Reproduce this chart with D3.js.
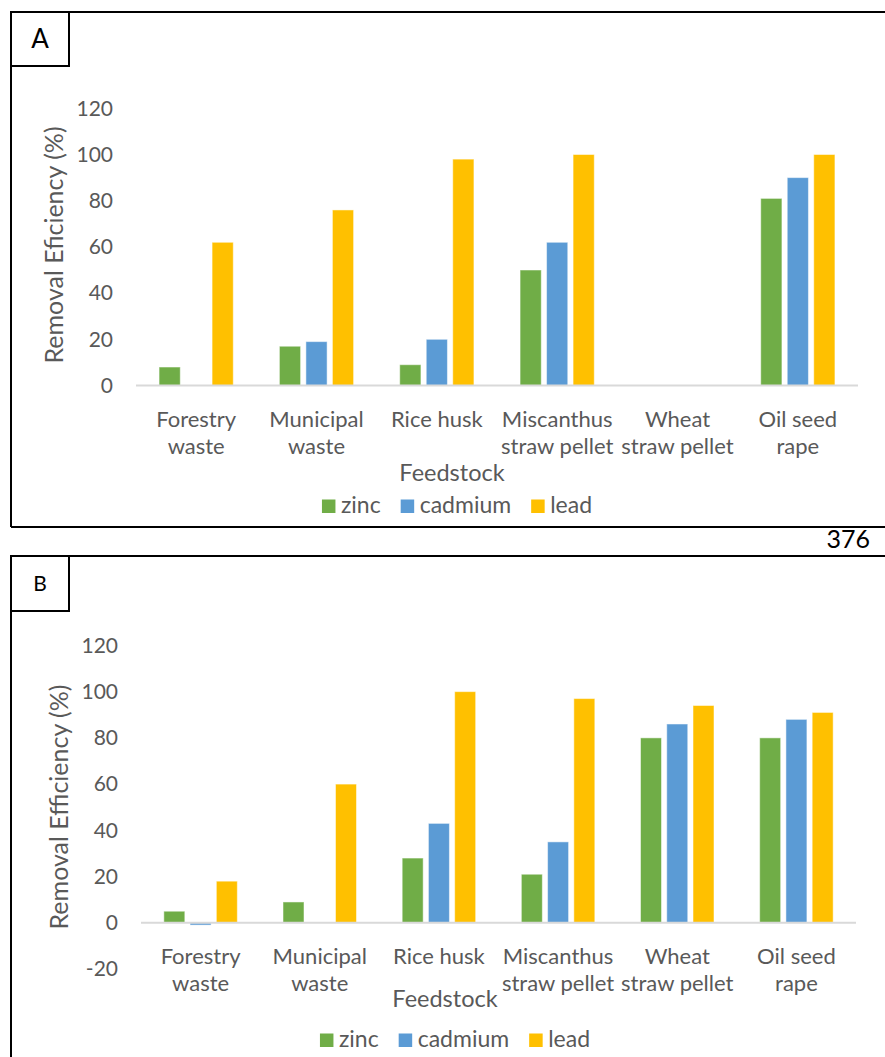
<!DOCTYPE html>
<html>
<head>
<meta charset="utf-8">
<script src="https://cdn.jsdelivr.net/npm/d3@7/dist/d3.min.js"></script>
<style>
  html, body { margin: 0; padding: 0; background: #fff; }
  svg { display: block; }
  text { font-family: Lato, "Noto Sans", sans-serif; }
</style>
</head>
<body>
<svg id="chart" width="885" height="1057"></svg>
<script>
// ---- data ----
const categories = ["Forestry waste", "Municipal waste", "Rice husk", "Miscanthus straw pellet", "Wheat straw pellet", "Oil seed rape"];
const categoryLines = [["Forestry", "waste"], ["Municipal", "waste"], ["Rice husk"], ["Miscanthus", "straw pellet"], ["Wheat", "straw pellet"], ["Oil seed", "rape"]];
const series = ["zinc", "cadmium", "lead"];
const colors = ["#70AD47", "#5B9BD5", "#FFC000"];

// Panel A (null = no bar)
const zincA    = [8, 17, 9, 50, null, 81];
const cadmiumA = [null, 19, 20, 62, null, 90];
const leadA    = [62, 76, 98, 100, null, 100];
const ticksA   = [0, 20, 40, 60, 80, 100, 120];

// Panel B
const zincB    = [5, 9, 28, 21, 80, 80];
const cadmiumB = [-1, null, 43, 35, 86, 88];
const leadB    = [18, 60, 100, 97, 94, 91];
const ticksB   = [-20, 0, 20, 40, 60, 80, 100, 120];

const svg = d3.select("#chart");
const textColor = "#595959";

// frames
function frame(top, bottom, label, labelBottom, labelSize) {
  const g = svg.append("g");
  g.append("line").attr("x1", 11).attr("x2", 886).attr("y1", top).attr("y2", top)
    .attr("stroke", "#000").attr("stroke-width", 2);
  g.append("line").attr("x1", 11).attr("x2", 11).attr("y1", top).attr("y2", bottom)
    .attr("stroke", "#000").attr("stroke-width", 2);
  g.append("rect").attr("x", 11).attr("y", top).attr("width", 58).attr("height", labelBottom - top)
    .attr("fill", "none").attr("stroke", "#000").attr("stroke-width", 2);
  g.append("text").attr("x", 40).attr("y", (top + labelBottom) / 2)
    .attr("dy", "0.36em").attr("text-anchor", "middle")
    .attr("font-size", labelSize).attr("fill", "#000").text(label);
}
frame(12, 527, "A", 66, 26);
svg.append("line").attr("x1", 11).attr("x2", 886).attr("y1", 527).attr("y2", 527)
  .attr("stroke", "#000").attr("stroke-width", 2);
frame(556, 1060, "B", 611, 21);
svg.append("text").attr("x", 870).attr("y", 548).attr("text-anchor", "end")
  .attr("font-size", 25).attr("fill", "#000").text("376");

function panel(cfg) {
  const vals = [cfg.zinc, cfg.cadmium, cfg.lead];
  const g = svg.append("g");
  const x0 = d3.scaleBand().domain(categories).range(cfg.xRange).paddingInner(0).paddingOuter(0);
  const x1 = d3.scaleBand().domain(series).range([0, x0.bandwidth()]).paddingInner(0.2).paddingOuter(0.87);
  const y = d3.scaleLinear().domain(cfg.yDomain).range(cfg.yRange);

  // y axis
  const ya = g.append("g").attr("transform", `translate(${cfg.xRange[0]},0)`)
    .call(d3.axisLeft(y).tickValues(cfg.ticks).tickFormat(d => String(d)).tickSize(0).tickPadding(23));
  ya.select(".domain").remove();
  ya.selectAll("text").attr("font-family", "Lato, sans-serif").attr("font-size", 21).attr("fill", textColor);

  // bars
  const data = [];
  categories.forEach((c, i) => series.forEach((s, j) => {
    const v = vals[j][i];
    if (v !== null && v !== undefined) data.push({ c, s, v, color: colors[j] });
  }));
  g.selectAll("rect.bar").data(data).join("rect").attr("class", "bar")
    .attr("x", d => x0(d.c) + x1(d.s))
    .attr("width", x1.bandwidth())
    .attr("y", d => y(Math.max(0, d.v)))
    .attr("height", d => Math.abs(y(d.v) - y(0)))
    .attr("fill", d => d.color)
    .attr("stroke", "#fff").attr("stroke-opacity", 0.5).attr("stroke-width", 1);

  // x axis
  const xa = g.append("g").attr("transform", `translate(0,${y(0)})`)
    .call(d3.axisBottom(x0).tickSize(0));
  xa.select(".domain").attr("stroke", "#D9D9D9").attr("stroke-width", 2)
    .attr("d", `M${cfg.xRange[0]},0H${cfg.xRange[1]}`);
  xa.selectAll(".tick text").each(function (d, i) {
    const t = d3.select(this);
    t.text(null).attr("y", null).attr("dy", null)
      .attr("font-family", "Lato, sans-serif").attr("font-size", 22).attr("fill", textColor);
    categoryLines[i].forEach((ln, k) => {
      t.append("tspan").attr("x", 0).attr("y", 41 + k * 27.5).text(ln);
    });
  });

  // axis title
  g.append("text").attr("x", cfg.xTitleX).attr("y", cfg.xTitleY)
    .attr("text-anchor", "middle").attr("font-size", 23.5).attr("fill", textColor).text("Feedstock");

  // y title
  g.append("text").attr("transform", `translate(${cfg.yTitleX},${cfg.yTitleY}) rotate(-90)`)
    .attr("text-anchor", "middle").attr("font-size", 25).attr("fill", textColor).text(cfg.yTitle);

  // legend
  const lg = g.append("g");
  let cx = 0;
  series.forEach((s, j) => {
    lg.append("rect").attr("x", cx).attr("y", -13.5).attr("width", 13.5).attr("height", 13.5).attr("fill", colors[j]);
    const t = lg.append("text").attr("x", cx + 19).attr("y", 0).attr("font-size", 23).attr("fill", textColor).text(s);
    cx += 19 + t.node().getComputedTextLength() + 20;
  });
  const total = cx - 20;
  lg.attr("transform", `translate(${cfg.legendCenter - total / 2},${cfg.legendY})`);
}

panel({
  zinc: zincA, cadmium: cadmiumA, lead: leadA, ticks: ticksA,
  xRange: [136, 858], yDomain: [0, 120], yRange: [385.5, 108.3],
  xTitleX: 452, xTitleY: 481, yTitleX: 63, yTitleY: 245, yTitle: "Removal Eficiency (%)",
  legendCenter: 457, legendY: 513
});
panel({
  zinc: zincB, cadmium: cadmiumB, lead: leadB, ticks: ticksB,
  xRange: [141, 856], yDomain: [-20, 120], yRange: [969.0, 645.4],
  xTitleX: 445, xTitleY: 1007, yTitleX: 68, yTitleY: 807, yTitle: "Removal Efficiency (%)",
  legendCenter: 455, legendY: 1047
});
</script>
</body>
</html>
